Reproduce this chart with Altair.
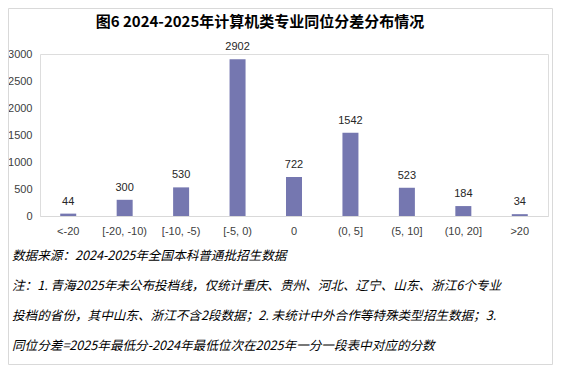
import altair as alt
import pandas as pd

categories = ["<-20", "[-20, -10)", "[-10, -5)", "[-5, 0)", "0", "(0, 5]", "(5, 10]", "(10, 20]", ">20"]
counts = [44, 300, 530, 2902, 722, 1542, 523, 184, 34]
y_ticks = [0, 500, 1000, 1500, 2000, 2500, 3000]
title_text = "图6 2024-2025年计算机类专业同位分差分布情况"
notes = [
    "数据来源：2024-2025年全国本科普通批招生数据",
    "注：1. 青海2025年未公布投档线，仅统计重庆、贵州、河北、辽宁、山东、浙江6个专业",
    "投档的省份，其中山东、浙江不含2段数据；2. 未统计中外合作等特殊类型招生数据；3.",
    "同位分差=2025年最低分-2024年最低位次在2025年一分一段表中对应的分数",
]

df = pd.DataFrame({"cat": categories, "n": counts})
one = pd.DataFrame({"k": [0]})

FONT = "Liberation Sans"
CJK = "Noto Sans CJK SC"
W, H = 508, 162

x_enc = alt.X("cat:N", sort=categories, title=None,
              scale=alt.Scale(paddingInner=0, paddingOuter=0),
              axis=alt.Axis(labelAngle=0, labelFont=FONT, labelFontSize=11, labelColor="#404040",
                            ticks=False, domainColor="#D9D9D9", labelPadding=9))
y_enc = alt.Y("n:Q", title=None,
              scale=alt.Scale(domain=[0, 3000], nice=False),
              axis=alt.Axis(values=y_ticks, tickCount=7, format="d", labelOverlap=False, grid=False,
                            domain=False, ticks=False, labelFont=FONT, labelFontSize=11,
                            labelColor="#404040", labelPadding=8))

bars = alt.Chart(df).mark_bar(size=16, color="#7577B0").encode(x=x_enc, y=y_enc)
labels = alt.Chart(df).mark_text(dy=-12, font=FONT, fontSize=11, color="#262626").encode(
    x=x_enc, y=y_enc, text="n:Q")

title = alt.Chart(one).mark_text(font=CJK, fontSize=15, fontWeight="bold", color="#000000",
                                 align="center", baseline="middle").encode(
    x=alt.value(220), y=alt.value(-32), text=alt.value(title_text))

note_layers = []
for i, t in enumerate(notes):
    note_layers.append(
        alt.Chart(one).mark_text(font=CJK, fontSize=12.6, fontStyle="italic", color="#000000",
                                 align="left", baseline="middle").encode(
            x=alt.value(-28), y=alt.value(202 + 30 * i), text=alt.value(t)))

border = alt.Chart(one).mark_rect(fillOpacity=0, stroke="#D9D9D9", strokeWidth=1).encode(
    x=alt.value(-31.5), x2=alt.value(512.5), y=alt.value(-45.5), y2=alt.value(310.5))

chart = alt.layer(bars, labels, border, title, *note_layers).properties(
    width=W, height=H,
    autosize=alt.AutoSizeParams(type="none"),
    padding={"left": 32, "top": 46, "right": 5, "bottom": 149},
).configure_view(stroke=None).configure(background="#FFFFFF")

chart.save("out.html", embed_options={"renderer": "svg", "actions": False})
